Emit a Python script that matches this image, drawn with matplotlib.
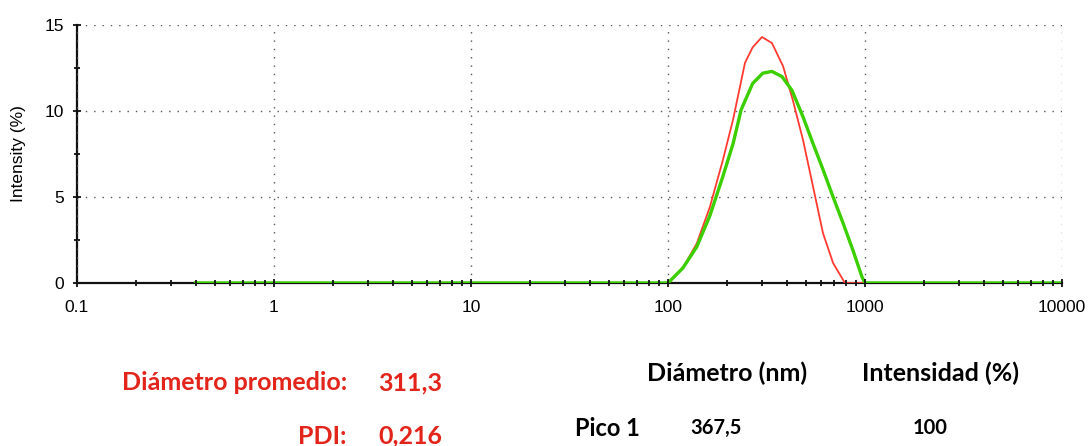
import numpy as np
import matplotlib.pyplot as plt
from matplotlib.ticker import FixedLocator, NullFormatter

# size distribution (diameter in nm, intensity in %)
d_red = [0.4, 100, 119, 140, 163, 190, 214, 246, 269, 300, 337, 384, 431, 485, 545, 612, 689, 791, 10000]
i_red = [0, 0, 0.87, 2.3, 4.4, 7.15, 9.5, 12.8, 13.7, 14.3, 13.95, 12.6, 10.6, 8.3, 5.6, 2.9, 1.16, 0, 0]

d_green = [0.4, 100, 119, 140, 163, 190, 214, 235, 269, 303, 337, 379, 426, 485, 545, 612, 689, 773, 869, 966, 1000, 10000]
i_green = [0, 0, 0.87, 2.1, 3.9, 6.2, 8.1, 10.06, 11.6, 12.2, 12.3, 12.0, 11.2, 9.65, 8.1, 6.6, 5.0, 3.5, 1.9, 0.35, 0, 0]

x_major = [0.1, 1, 10, 100, 1000, 10000]
x_labels = ["0.1", "1", "10", "100", "1000", "10000"]
y_major = [0, 5, 10, 15]
y_minor = [2.5, 7.5, 12.5]

summary_labels = ["Diámetro promedio:", "PDI:"]
summary_values = ["311,3", "0,216"]
peak_headers = ["Diámetro (nm)", "Intensidad (%)"]
peak_row = ["Pico 1", "367,5", "100"]

plt.rcParams["font.family"] = ["Liberation Sans", "DejaVu Sans"]

fig = plt.figure(figsize=(10.92, 4.46), dpi=100)
ax = fig.add_axes([0.0705, 0.3655, 0.902, 0.5785])

ax.plot(d_red, i_red, color="#ff3b30", lw=1.3, zorder=3)
ax.plot(d_green, i_green, color="#3ccf00", lw=2.4, zorder=3.2)

ax.set_xscale("log")
ax.set_xlim(0.1, 10000)
ax.set_ylim(0, 15)

ax.xaxis.set_major_locator(FixedLocator(x_major))
ax.set_xticklabels(x_labels)
minors = [m * 10.0 ** e for e in range(-1, 4) for m in range(2, 10)]
ax.xaxis.set_minor_locator(FixedLocator(minors))
ax.xaxis.set_minor_formatter(NullFormatter())
ax.set_yticks(y_major)
ax.yaxis.set_minor_locator(FixedLocator(y_minor))

for s in ["top", "right"]:
    ax.spines[s].set_visible(False)
for s in ["left", "bottom"]:
    ax.spines[s].set_linewidth(1.6)
    ax.spines[s].set_color("#111111")
ax.spines["bottom"].set_zorder(2.5)

ax.tick_params(which="both", direction="inout", color="#111111", width=1.3)
ax.tick_params(which="major", length=6, labelsize=12.5)
ax.tick_params(axis="x", which="major", pad=9)
ax.tick_params(axis="y", which="major", pad=6)
ax.tick_params(which="minor", length=4)
ax.xaxis.set_zorder(4)

ax.grid(True, which="major", linestyle=(0, (1, 5)), color="#555555", lw=1.0)
ax.set_ylabel("Intensity (%)", fontsize=12.5)
ax.yaxis.set_label_coords(-0.052, 0.5)

bold = dict(family="Lato", weight="bold")
red = "#e3241b"
big = 18
fig.text(347 / 1092, 1 - 383 / 446, summary_labels[0], ha="right", va="center", color=red, fontsize=big, **bold)
fig.text(347 / 1092, 1 - 436 / 446, summary_labels[1], ha="right", va="center", color=red, fontsize=big, **bold)
fig.text(378 / 1092, 1 - 383 / 446, summary_values[0], ha="left", va="center", color=red, fontsize=big, **bold)
fig.text(378 / 1092, 1 - 436 / 446, summary_values[1], ha="left", va="center", color=red, fontsize=big, **bold)

fig.text(727 / 1092, 1 - 373 / 446, peak_headers[0], ha="center", va="center", color="black", fontsize=big, **bold)
fig.text(941 / 1092, 1 - 373 / 446, peak_headers[1], ha="center", va="center", color="black", fontsize=big, **bold)
fig.text(575 / 1092, 1 - 428 / 446, peak_row[0], ha="left", va="center", color="black", fontsize=17, **bold)
fig.text(716 / 1092, 1 - 428 / 446, peak_row[1], ha="center", va="center", color="black", fontsize=14.5, **bold)
fig.text(930 / 1092, 1 - 428 / 446, peak_row[2], ha="center", va="center", color="black", fontsize=14.5, **bold)

fig.savefig("out.png", dpi=100)
